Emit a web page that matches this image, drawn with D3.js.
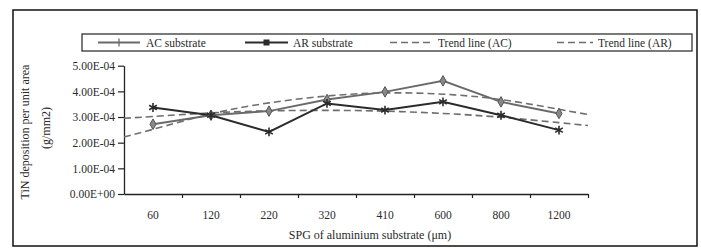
<!DOCTYPE html>
<html><head><meta charset="utf-8">
<script src="https://cdn.jsdelivr.net/npm/d3@7"></script>
<style>
html,body{margin:0;padding:0;background:#fff;}
svg{display:block;font-family:"Liberation Serif","Times New Roman",serif;}
</style></head>
<body>
<svg id="chart" width="701" height="248"></svg>
<script>
// ---- data ----
const categories = ["60","120","220","320","410","600","800","1200"];
const acValues = [2.72e-4, 3.07e-4, 3.23e-4, 3.68e-4, 3.98e-4, 4.41e-4, 3.59e-4, 3.14e-4];
const arValues = [3.37e-4, 3.07e-4, 2.42e-4, 3.53e-4, 3.27e-4, 3.59e-4, 3.07e-4, 2.49e-4];
// trend lines at axis positions (in category units from the axis start)
const trendPos = [0, 0.5, 1.5, 2.5, 3.5, 4.5, 5.5, 6.5, 7.5, 8];
const trendAC = [2.22e-4, 2.52e-4, 3.12e-4, 3.55e-4, 3.82e-4, 3.94e-4, 3.89e-4, 3.68e-4, 3.30e-4, 3.10e-4];
const trendAR = [2.95e-4, 3.02e-4, 3.16e-4, 3.24e-4, 3.26e-4, 3.23e-4, 3.14e-4, 2.99e-4, 2.78e-4, 2.67e-4];
const yTicks = [0, 1e-4, 2e-4, 3e-4, 4e-4, 5e-4];
const yTickLabels = ["0.00E+00","1.00E-04","2.00E-04","3.00E-04","4.00E-04","5.00E-04"];
const legendLabels = ["AC substrate","AR substrate","Trend line (AC)","Trend line (AR)"];
const xTitle = "SPG of aluminium substrate (μm)";
const yTitle = ["TiN deposition per unit area","(g/mm2)"];

// ---- layout ----
const svg = d3.select("#chart");
const L = 124, R = 588, T = 65.7, B = 194;
const textCol = "#2a2a2a";
const acCol = "#6a6a6a", arCol = "#2b2b2b", trCol = "#6e6e6e";

svg.append("rect").attr("x",13).attr("y",10).attr("width",684).attr("height",236)
  .attr("fill","#fff").attr("stroke","#111").attr("stroke-width",1.5);

const x = d3.scaleBand().domain(categories).range([L,R]).padding(0);
const xl = d3.scaleLinear().domain([0,8]).range([L,R]);
const y = d3.scaleLinear().domain([0,5e-4]).range([B,T]);
const cx = c => x(c) + x.bandwidth()/2;

// y axis
const yAxis = svg.append("g").attr("transform",`translate(${L},0)`)
  .call(d3.axisLeft(y).tickValues(yTicks).tickFormat((d,i)=>yTickLabels[i]).tickSizeInner(6).tickSizeOuter(0));
yAxis.select(".domain").attr("stroke","#222").attr("stroke-width",1.3);
yAxis.selectAll(".tick line").attr("stroke","#222").attr("stroke-width",1.2);
yAxis.selectAll(".tick text").attr("font-size",11.5).attr("fill",textCol).attr("x",-9)
  .attr("font-family","Liberation Serif");

// x axis ticks at boundaries
const xTickAxis = svg.append("g").attr("transform",`translate(0,${B})`)
  .call(d3.axisBottom(xl).tickValues(d3.range(1,9)).tickFormat("").tickSizeInner(4).tickSizeOuter(0));
xTickAxis.select(".domain").attr("stroke","#222").attr("stroke-width",1.5);
xTickAxis.selectAll(".tick line").attr("stroke","#222").attr("stroke-width",1.2);

// x labels
const xLab = svg.append("g").attr("transform",`translate(0,${B})`)
  .call(d3.axisBottom(x).tickSize(0).tickPadding(17));
xLab.select(".domain").remove();
xLab.selectAll(".tick text").attr("font-size",11.5).attr("fill",textCol).attr("font-family","Liberation Serif");

// titles
svg.append("text").attr("x",370).attr("y",239).attr("text-anchor","middle")
  .attr("font-size",12).attr("fill",textCol).text(xTitle);
svg.append("text").attr("transform","translate(29,132) rotate(-90)").attr("text-anchor","middle")
  .attr("font-size",12).attr("fill",textCol).text(yTitle[0]);
svg.append("text").attr("transform","translate(50,128) rotate(-90)").attr("text-anchor","middle")
  .attr("font-size",12).attr("fill",textCol).text(yTitle[1]);

// trend lines
const trendLine = d3.line().x(d=>xl(d[0])).y(d=>y(d[1])).curve(d3.curveNatural);
svg.append("path").datum(trendPos.map((p,i)=>[p,trendAC[i]]))
  .attr("d",trendLine).attr("fill","none").attr("stroke",trCol).attr("stroke-width",1.6).attr("stroke-dasharray","7,4");
svg.append("path").datum(trendPos.map((p,i)=>[p,trendAR[i]]))
  .attr("d",trendLine).attr("fill","none").attr("stroke",trCol).attr("stroke-width",1.6).attr("stroke-dasharray","7,4");

// data lines
const line = d3.line().x((d,i)=>cx(categories[i])).y(d=>y(d));
svg.append("path").datum(acValues).attr("d",line).attr("fill","none").attr("stroke",acCol).attr("stroke-width",2);
svg.append("path").datum(arValues).attr("d",line).attr("fill","none").attr("stroke",arCol).attr("stroke-width",2);

// markers
const diamond = d3.symbol().type(d3.symbolDiamond).size(32);
const star = d3.symbol().type(d3.symbolAsterisk).size(55);
svg.append("g").selectAll("path").data(acValues).join("path")
  .attr("transform",(d,i)=>`translate(${cx(categories[i])},${y(d)})`)
  .attr("d",diamond).attr("fill","#888").attr("stroke","#555").attr("stroke-width",1);
svg.append("g").selectAll("path").data(arValues).join("path")
  .attr("transform",(d,i)=>`translate(${cx(categories[i])},${y(d)})`)
  .attr("d",star).attr("fill","none").attr("stroke",arCol).attr("stroke-width",1.6);

// legend
const lg = svg.append("g");
lg.append("rect").attr("x",82).attr("y",34).attr("width",610).attr("height",17)
  .attr("fill","#fff").attr("stroke","#333").attr("stroke-width",1.3);
const ly = 42.5;
const items = [
  {x0:98,x1:140,tx:146,col:acCol,dash:null,mk:"ac"},
  {x0:245,x1:288,tx:293,col:arCol,dash:null,mk:"ar"},
  {x0:390,x1:433,tx:438,col:trCol,dash:"7,4",mk:null},
  {x0:557,x1:593,tx:598,col:trCol,dash:"7,4",mk:null}
];
items.forEach((it,i)=>{
  lg.append("line").attr("x1",it.x0).attr("x2",it.x1).attr("y1",ly).attr("y2",ly)
    .attr("stroke",it.col).attr("stroke-width",it.dash?1.6:2).attr("stroke-dasharray",it.dash);
  const mx=(it.x0+it.x1)/2;
  if(it.mk==="ac"){
    lg.append("line").attr("x1",mx).attr("x2",mx).attr("y1",ly-4).attr("y2",ly+4).attr("stroke",acCol).attr("stroke-width",1.3);
  } else if(it.mk==="ar"){
    lg.append("rect").attr("x",mx-3).attr("y",ly-3).attr("width",6).attr("height",6).attr("fill",arCol);
  }
  lg.append("text").attr("x",it.tx).attr("y",ly+4).attr("font-size",11.5).attr("fill",textCol).text(legendLabels[i]);
});
</script>
</body></html>
